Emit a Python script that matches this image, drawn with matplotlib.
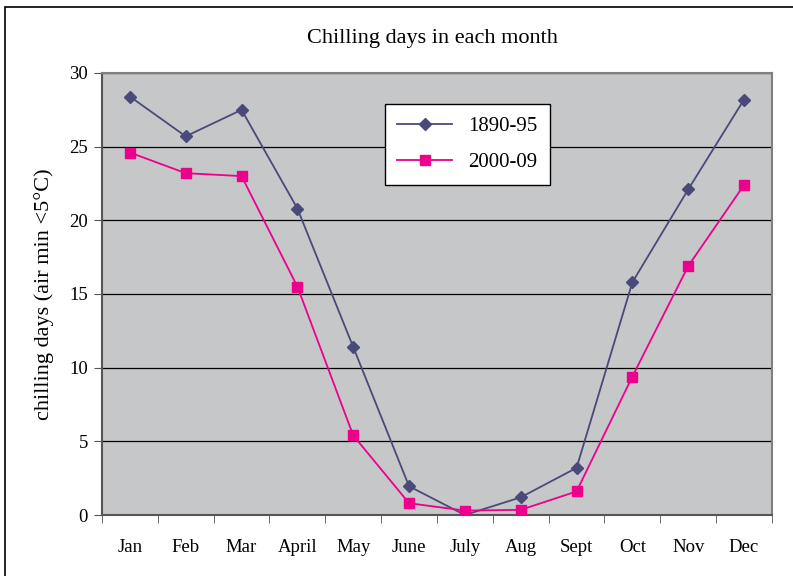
import numpy as np
import matplotlib
matplotlib.use("Agg")
import matplotlib.pyplot as plt
from matplotlib.patches import Rectangle

plt.rcParams['font.family'] = ['Liberation Serif', 'DejaVu Serif']

# datos
meses = ["Jan", "Feb", "Mar", "April", "May", "June", "July", "Aug", "Sept", "Oct", "Nov", "Dec"]
dias_1890 = [28.4, 25.7, 27.5, 20.8, 11.4, 1.95, 0.0, 1.2, 3.2, 15.8, 22.1, 28.2]
dias_2000 = [24.6, 23.2, 23.0, 15.5, 5.4, 0.8, 0.3, 0.35, 1.6, 9.4, 16.9, 22.4]

fig = plt.figure(figsize=(7.93, 5.76), dpi=100)
ax = fig.add_axes([0.1286, 0.1059, 0.8449, 0.7674])

# marco exterior
fig.patches.append(Rectangle((5/793, -0.02), 1.0, 1 - 7/576 + 0.02, transform=fig.transFigure,
                             fill=False, edgecolor="black", linewidth=1.2))

ax.set_facecolor("#c6c7c9")
x = np.arange(len(meses))
ax.plot(x, dias_1890, color="#4a4a7a", marker="D", markersize=6.5, linewidth=1.3,
        label="1890-95", zorder=3)
ax.plot(x, dias_2000, color="#ec008c", marker="s", markersize=7, linewidth=1.3,
        label="2000-09", zorder=3)

ax.set_xlim(-0.5, len(meses) - 0.5)
ax.set_ylim(0, 30)
ax.set_yticks(range(0, 31, 5))
ax.yaxis.grid(True, color="black", linewidth=0.9)
ax.set_axisbelow(True)

ax.set_xticks(x)
ax.set_xticklabels(meses)
ax.set_xticks(np.arange(-0.5, len(meses), 1), minor=True)
ax.tick_params(axis="x", which="major", length=0, pad=17, labelsize=13.5)
ax.tick_params(axis="x", which="minor", length=6, direction="out", color="#555555")
ax.tick_params(axis="y", length=6, direction="out", labelsize=13.5, pad=4, color="#555555")

for lado in ["top", "right"]:
    ax.spines[lado].set_color("#808080")
    ax.spines[lado].set_linewidth(1.5)
ax.spines["left"].set_color("#555555")
ax.spines["bottom"].set_color("#555555")
ax.spines["left"].set_linewidth(1.5)
ax.spines["bottom"].set_linewidth(1.5)

ax.set_ylabel("chilling days (air min <5°C)", fontsize=16, labelpad=11)
fig.text(0.545, 1 - 38/576, "Chilling days in each month", ha="center", va="center", fontsize=16)

leg = ax.legend(loc="upper left", bbox_to_anchor=(0.4224, 0.930), borderaxespad=0,
                fontsize=15, frameon=True, fancybox=False, edgecolor="black", framealpha=1,
                borderpad=0.6, handlelength=2.6, labelspacing=0.8)
leg.get_frame().set_linewidth(1.0)

fig.savefig("out.png", dpi=100)
